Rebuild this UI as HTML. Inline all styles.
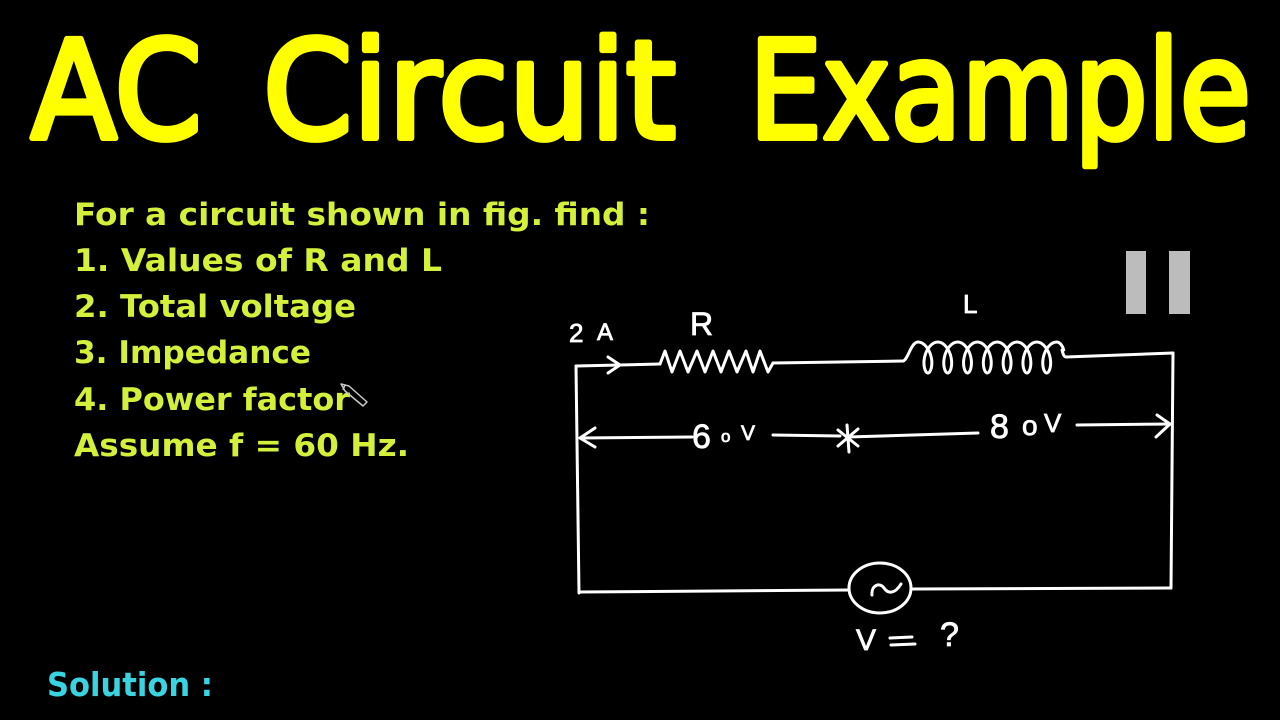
<!DOCTYPE html>
<html>
<head>
<meta charset="utf-8">
<style>
  html,body{margin:0;padding:0;background:#000;}
  svg{display:block;}
  .title{font-family:"DejaVu Sans","Liberation Sans",sans-serif;font-weight:normal;font-size:136px;fill:#ffff00;stroke:#ffff00;stroke-width:6;stroke-linejoin:round;stroke-linecap:round;}
  .body{font-family:"DejaVu Sans","Liberation Sans",sans-serif;font-weight:bold;font-size:31px;fill:#d4f03a;}
  .sol{font-family:"DejaVu Sans","Liberation Sans",sans-serif;font-weight:bold;font-size:33px;fill:#3ad4e0;}
  .hw{font-family:"Liberation Sans","DejaVu Sans",sans-serif;fill:#fff;stroke:#fff;stroke-width:0.8;}
  .w{fill:none;stroke:#fff;stroke-width:3;stroke-linecap:round;stroke-linejoin:round;}
</style>
</head>
<body>
<svg width="1280" height="720" viewBox="0 0 1280 720" xmlns="http://www.w3.org/2000/svg">
  <rect width="1280" height="720" fill="#000"/>

  <!-- Title -->
  <text class="title" x="31" y="138" textLength="171" lengthAdjust="spacingAndGlyphs">AC</text>
  <text class="title" x="263" y="138" textLength="413" lengthAdjust="spacingAndGlyphs">Circuit</text>
  <text class="title" x="749" y="138" textLength="502" lengthAdjust="spacingAndGlyphs">Example</text>

  <!-- Problem text -->
  <text class="body" x="74" y="225" textLength="576" lengthAdjust="spacingAndGlyphs">For a circuit shown in fig. find :</text>
  <text class="body" x="74" y="271" textLength="368" lengthAdjust="spacingAndGlyphs">1. Values of R and L</text>
  <text class="body" x="74" y="317" textLength="282" lengthAdjust="spacingAndGlyphs">2. Total voltage</text>
  <text class="body" x="74" y="363" textLength="237" lengthAdjust="spacingAndGlyphs">3. Impedance</text>
  <text class="body" x="74" y="410" textLength="276" lengthAdjust="spacingAndGlyphs">4. Power factor</text>
  <text class="body" x="74" y="456" textLength="335" lengthAdjust="spacingAndGlyphs">Assume f = 60 Hz.</text>

  <!-- pencil cursor -->
  <g fill="none" stroke="#c8c8c8" stroke-width="1.5" stroke-linejoin="round">
    <path d="M341,384 L349,386 L367,402 L363,406 L345,391 Z"/>
    <path d="M345,385 L343,390"/>
  </g>

  <!-- Solution -->
  <text class="sol" x="47" y="696" textLength="166" lengthAdjust="spacingAndGlyphs">Solution :</text>

  <!-- Pause icon -->
  <rect x="1126" y="251" width="20" height="63" fill="#bcbcbc"/>
  <rect x="1169" y="251" width="21" height="63" fill="#bcbcbc"/>

  <!-- Circuit -->
  <path class="w" d="M576,366 L579,593"/>
  <path class="w" d="M576,366 L660,364"/>
  <path class="w" d="M608,357 L620,365 L608,373"/>
  <path class="w" d="M660,364 L665,351 L672,372 L680,351 L688,372 L697,351 L705,372 L713,351 L721,372 L729,351 L737,372 L746,351 L753,372 L760,351 L768,372 L773,363"/>
  <path class="w" d="M773,363 L903,361"/>
  <!-- inductor -->
  <path class="w" d="M903,361 C908,360 911,342 918,342"/>
  <g transform="translate(918,0) scale(0.927,1)">
    <path class="w" vector-effect="non-scaling-stroke" d="M0,342 C6.49,342 12.56,349.38 14.34,357.5 C16.12,365.62 13.61,373 10.68,373"/>
    <path class="w" vector-effect="non-scaling-stroke" d="M10.68,373 C7.75,373 5.24,365.62 7.02,357.5 C8.80,349.38 14.87,342 21.36,342 C27.85,342 33.92,349.38 35.70,357.5 C37.48,365.62 34.97,373 32.04,373"/>
    <g transform="translate(21.36,0)"><path class="w" vector-effect="non-scaling-stroke" d="M10.68,373 C7.75,373 5.24,365.62 7.02,357.5 C8.80,349.38 14.87,342 21.36,342 C27.85,342 33.92,349.38 35.70,357.5 C37.48,365.62 34.97,373 32.04,373"/></g>
    <g transform="translate(42.72,0)"><path class="w" vector-effect="non-scaling-stroke" d="M10.68,373 C7.75,373 5.24,365.62 7.02,357.5 C8.80,349.38 14.87,342 21.36,342 C27.85,342 33.92,349.38 35.70,357.5 C37.48,365.62 34.97,373 32.04,373"/></g>
    <g transform="translate(64.08,0)"><path class="w" vector-effect="non-scaling-stroke" d="M10.68,373 C7.75,373 5.24,365.62 7.02,357.5 C8.80,349.38 14.87,342 21.36,342 C27.85,342 33.92,349.38 35.70,357.5 C37.48,365.62 34.97,373 32.04,373"/></g>
    <g transform="translate(85.44,0)"><path class="w" vector-effect="non-scaling-stroke" d="M10.68,373 C7.75,373 5.24,365.62 7.02,357.5 C8.80,349.38 14.87,342 21.36,342 C27.85,342 33.92,349.38 35.70,357.5 C37.48,365.62 34.97,373 32.04,373"/></g>
    <g transform="translate(106.8,0)"><path class="w" vector-effect="non-scaling-stroke" d="M10.68,373 C7.75,373 5.24,365.62 7.02,357.5 C8.80,349.38 14.87,342 21.36,342 C27.85,342 33.92,349.38 35.70,357.5 C37.48,365.62 34.97,373 32.04,373"/></g>
    <g transform="translate(128.16,0)"><path class="w" vector-effect="non-scaling-stroke" d="M10.68,373 C7.75,373 5.24,365.62 7.02,357.5 C8.80,349.38 14.87,342 21.36,342 C25,342 28,346 29,350"/></g>
  </g>
  <path class="w" d="M1062,350 C1063,354 1064,357 1066,357 L1173,353"/>
  <path class="w" d="M1173,353 L1171,588"/>
  <!-- bottom wire and source -->
  <path class="w" d="M579,592 L849,590"/>
  <path class="w" d="M911,589 L1171,588"/>
  <ellipse class="w" cx="880" cy="588" rx="31" ry="25"/>
  <path class="w" d="M872,595 C871,585 880,582 884,588 C888,594 895,594 901,584"/>

  <!-- voltage arrows -->
  <path class="w" d="M580,438 L692,437"/>
  <path class="w" d="M595,428 L580,438 L595,447"/>
  <path class="w" d="M773,435 L840,436"/>
  <path class="w" d="M847,425 L849,452 M838,430 L858,446 M838,446 L858,429"/>
  <path class="w" d="M848,437 L978,433"/>
  <path class="w" d="M1077,425 L1170,424"/>
  <path class="w" d="M1157,415 L1170,424 L1156,437"/>

  <!-- handwritten labels -->
  <text class="hw" x="569" y="342" font-size="26">2</text>
  <text class="hw" x="597" y="340" font-size="24">A</text>
  <text class="hw" x="690" y="335" font-size="32">R</text>
  <text class="hw" x="963" y="313" font-size="26">L</text>

  <text class="hw" x="692" y="448" font-size="34">6</text>
  <text class="hw" x="721" y="442" font-size="17">o</text>
  <text class="hw" x="741" y="440" font-size="21">V</text>

  <text class="hw" x="990" y="438" font-size="34">8</text>
  <text class="hw" x="1022" y="435" font-size="28">o</text>
  <text class="hw" x="1044" y="432" font-size="26">V</text>

  <text class="hw" x="856" y="650" font-size="30">V</text>
  <path class="w" d="M890,638 L912,637 M891,645 L915,644"/>
  <text class="hw" x="940" y="646" font-size="34">?</text>
</svg>
</body>
</html>
